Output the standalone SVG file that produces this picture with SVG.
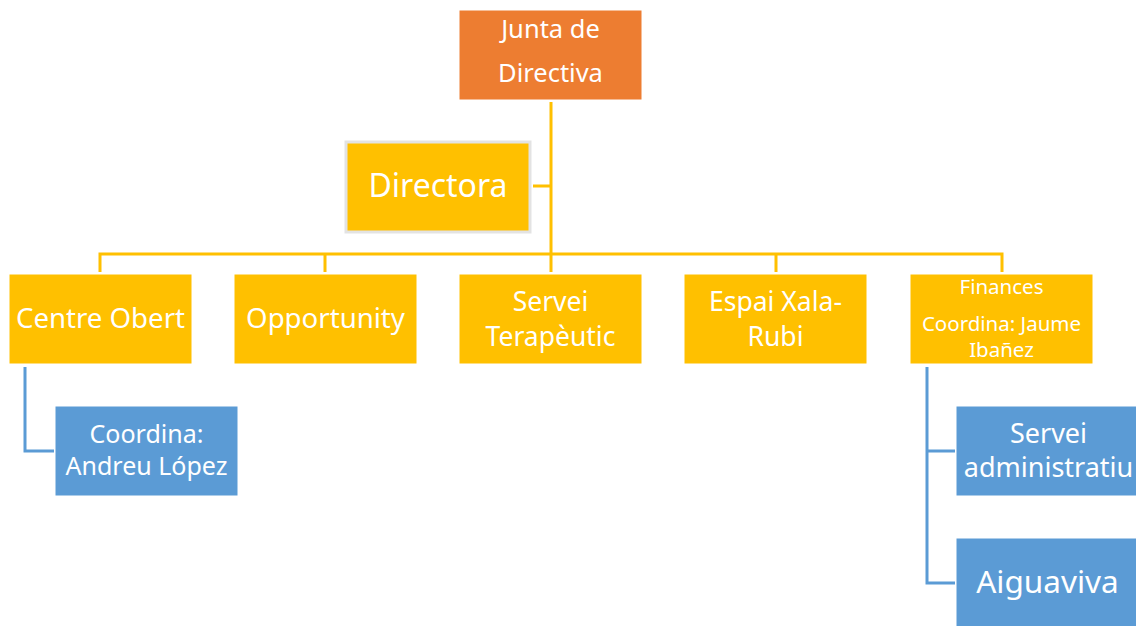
<svg xmlns="http://www.w3.org/2000/svg" width="1136" height="626" viewBox="0 0 1136 626">
<style>
.t{font-family:"Noto Sans","Open Sans","Liberation Sans",sans-serif;fill:#fff;text-anchor:middle}
.y{fill:#FFC000;stroke:#fff;stroke-width:1}
.b{fill:#5B9BD5;stroke:#fff;stroke-width:1}
.cy{stroke:#FFC000;stroke-width:3;fill:none}
.cb{stroke:#5B9BD5;stroke-width:3;fill:none}
</style>
<rect width="1136" height="626" fill="#fff"/>
<g id="connectors">
<path class="cy" d="M551 102V254M533 186H551M100 272V254H1002V272M325 254V272M551 254V272M776 254V272"/>
<path class="cb" d="M25 367V451H54M927 367V583H955M927 451H955"/>
</g>
<g id="junta">
<rect x="459" y="10" width="183" height="90" fill="#ED7D31" stroke="#fff"/>
<text class="t" x="550.5" y="38" font-size="25.5">Junta de</text>
<text class="t" x="550.5" y="82" font-size="25.5">Directiva</text>
</g>
<g id="directora">
<rect x="346" y="142" width="184" height="90" fill="#FFC000" stroke="#e3e3e3" stroke-width="3"/>
<text class="t" x="438" y="197" font-size="32">Directora</text>
</g>
<g id="centre-obert">
<rect class="y" x="9" y="274" width="183" height="90"/>
<text class="t" x="100.5" y="328" font-size="27.6">Centre Obert</text>
</g>
<g id="opportunity">
<rect class="y" x="234" y="274" width="183" height="90"/>
<text class="t" x="325.5" y="328" font-size="27.6">Opportunity</text>
</g>
<g id="servei-terapeutic">
<rect class="y" x="459" y="274" width="183" height="90"/>
<text class="t" x="550.5" y="311" font-size="26.5">Servei</text>
<text class="t" x="550.5" y="346" font-size="26.5">Terapèutic</text>
</g>
<g id="espai-xala-rubi">
<rect class="y" x="684" y="274" width="183" height="90"/>
<text class="t" x="775.5" y="311" font-size="26.5">Espai Xala-</text>
<text class="t" x="775.5" y="346" font-size="26.5">Rubi</text>
</g>
<g id="finances">
<rect class="y" x="910" y="274" width="183" height="90"/>
<text class="t" x="1001.5" y="294" font-size="20.5">Finances</text>
<text class="t" x="1001.5" y="331" font-size="20.5">Coordina: Jaume</text>
<text class="t" x="1001.5" y="357" font-size="20.5">Ibañez</text>
</g>
<g id="andreu">
<rect class="b" x="55" y="406" width="183" height="90"/>
<text class="t" x="146.5" y="443" font-size="25">Coordina:</text>
<text class="t" x="146.5" y="475" font-size="25">Andreu López</text>
</g>
<g id="servei-administratiu">
<rect class="b" x="956" y="406" width="183" height="90"/>
<text class="t" x="1048.5" y="443" font-size="27">Servei</text>
<text class="t" x="1048.5" y="477" font-size="27">administratiu</text>
</g>
<g id="aiguaviva">
<rect class="b" x="956" y="538" width="183" height="90"/>
<text class="t" x="1047.5" y="593" font-size="31.5">Aiguaviva</text>
</g>
</svg>
